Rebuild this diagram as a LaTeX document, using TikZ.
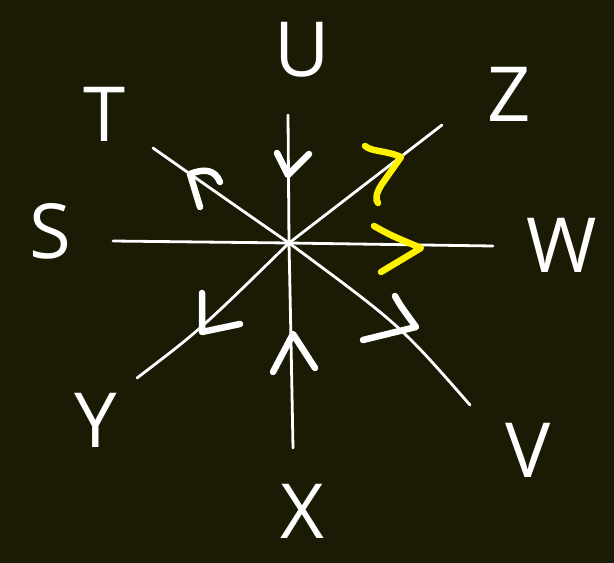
\documentclass[tikz,border=0pt]{standalone}
\usepackage{fontspec}
\setmainfont{Open Sans}
\begin{document}
\begin{tikzpicture}[x=1pt,y=-1pt,
  ray/.style={draw=white,line width=2.8pt,line cap=round},
  head/.style={draw=white,line width=6.5pt,line cap=round,line join=round},
  yhead/.style={draw=yellow,line width=6.5pt,line cap=round,line join=round},
  lbl/.style={text=white,font=\fontsize{76}{76}\selectfont,inner sep=0pt}]
\fill[fill={rgb,255:red,26;green,26;blue,5}] (0,0) rectangle (614,563);
\useasboundingbox (0,0) rectangle (614,563);
\coordinate (o) at (289,243);
\coordinate (eU) at (288,115);
\coordinate (eX) at (293,448);
\coordinate (eS) at (113,241);
\coordinate (eW) at (493,246);
\coordinate (eT) at (153,148);
\coordinate (eZ) at (442,125);
\coordinate (eY) at (137,378);
\coordinate (eV) at (470,405);
% labels
\node[lbl] (U) at (302,50) {U};
\node[lbl] (Z) at (509,94) {Z};
\node[lbl] (T) at (105,114) {T};
\node[lbl] (S) at (50,231) {S};
\node[lbl] (W) at (562,245) {W};
\node[lbl] (Y) at (96,420) {Y};
\node[lbl] (V) at (528,450) {V};
\node[lbl] (X) at (302,511) {X};
% rays
\draw[ray] (eU) -- (o);
\draw[ray] (o) .. controls (291,340) .. (eX);
\draw[ray] (eS) -- (o);
\draw[ray] (o) -- (eW);
\draw[ray] (eT) .. controls (220,195) .. (o);
\draw[ray] (o) -- (eZ);
\draw[ray] (eY) .. controls (200,330) .. (o);
\draw[ray] (o) .. controls (400,325) .. (eV);
% arrowheads
\draw[head] (277,153) -- (288,175) -- (309,154);
\draw[head] (273,372) -- (293,334) -- (315,368);
\draw[head] (200,207) -- (190,174) .. controls (205,168) and (215,170) .. (220,182);
\draw[head] (202,293) -- (202,332) -- (240,324);
\draw[head] (395,296) .. controls (400,305) .. (416,327) -- (363,340);
\draw[yhead] (365,146) .. controls (372,152) and (385,150) .. (401,157) -- (382,184) .. controls (376,193) and (375,200) .. (378,203);
\draw[yhead] (374,226) .. controls (390,235) .. (421,248) -- (381,272);
\end{tikzpicture}
\end{document}
